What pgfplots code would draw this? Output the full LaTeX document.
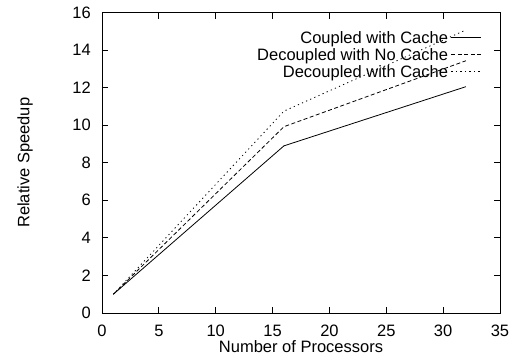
\documentclass[border=0pt]{standalone}
\usepackage{pgfplots}
\pgfplotsset{compat=1.18}
\usepackage{fontspec}
\setmainfont{Liberation Sans}
\newcommand{\gpfont}{\fontsize{16.5bp}{20bp}\selectfont}
\begin{document}
\begin{tikzpicture}
\begin{axis}[
  name=ax,
  scale only axis,
  width=398bp, height=300.5bp,
  xmin=0, xmax=35, ymin=0, ymax=16,
  xtick={0,5,...,35}, ytick={0,2,...,16},
  tick align=inside,
  major tick length=6.5bp,
  axis line style={line width=0.8bp},
  every tick/.style={black, line width=0.8bp},
  /pgf/number format/assume math mode=true,
  tick label style={font=\gpfont},
  xticklabel style={anchor=north, inner sep=0pt, yshift=-11.5bp},
  yticklabel style={anchor=east, inner sep=0pt, xshift=-11bp},
  xlabel={Number of Processors},
  ylabel={Relative Speedup},
  label style={font=\gpfont, inner sep=0pt},
  xlabel style={at={(axis description cs:0.5,-0.1331)}, anchor=base},
  ylabel style={at={(axis description cs:-0.1822,0.5)}, anchor=base},
  legend plot pos=right,
  legend cell align=right,
  legend style={draw=none, fill=none, font=\gpfont,
    at={(axis description cs:0.9548,0.9374)}, anchor=north east,
    inner xsep=0pt, inner ysep=0pt, column sep=3bp, row sep=0pt,
    nodes={inner sep=0pt, text height=12bp, text depth=4.8bp}},
  legend image code/.code={\draw[#1] (0bp,2.5bp) -- (30bp,2.5bp);},
]
\addplot[black, line width=0.8bp] coordinates {(1,1) (16,8.9) (32,12.05)};
\addlegendentry{Coupled with Cache}
\addplot[black, line width=0.8bp, dash pattern=on 4bp off 2.5bp] coordinates {(1,1) (16,9.92) (32,13.43)};
\addlegendentry{Decoupled with No Cache}
\addplot[black, line width=0.8bp, dash pattern=on 1.2bp off 3.3bp] coordinates {(1,1) (16,10.75) (32,15.07)};
\addlegendentry{Decoupled with Cache}
\end{axis}
\pgfresetboundingbox
\useasboundingbox (ax.south west) ++(-102bp,-42bp) rectangle ++(515bp,355bp);
\end{tikzpicture}
\end{document}
